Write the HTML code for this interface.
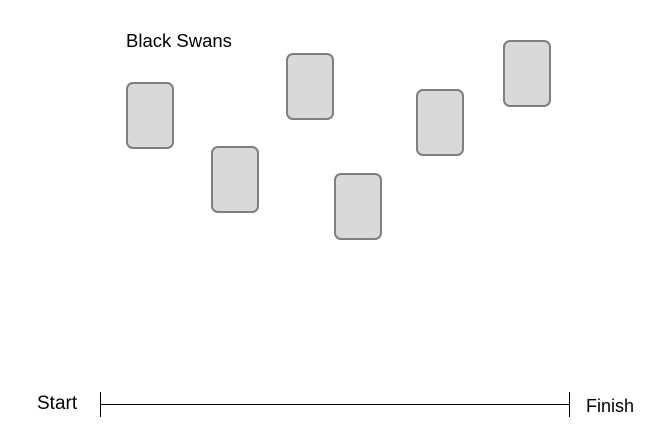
<!DOCTYPE html>
<html><head><style>
body{margin:0;width:667px;height:440px;background:#fff;position:relative;overflow:hidden;font-family:"Liberation Sans",sans-serif;}
.c{position:absolute;width:44px;height:63px;background:#d9d9d9;border:2px solid #7f7f7f;border-radius:7px;}
.t{position:absolute;color:#000;line-height:1;white-space:nowrap;}
</style></head><body>
<div class="t" style="left:126px;top:32px;font-size:18.5px">Black Swans</div>
<div class="c" style="left:126px;top:82px"></div>
<div class="c" style="left:211px;top:146px"></div>
<div class="c" style="left:286px;top:53px"></div>
<div class="c" style="left:334px;top:173px"></div>
<div class="c" style="left:416px;top:89px"></div>
<div class="c" style="left:503px;top:40px"></div>
<svg style="position:absolute;left:0;top:0" width="667" height="440">
<line x1="100" y1="404.5" x2="569" y2="404.5" stroke="#000" stroke-width="1"/>
<line x1="100.5" y1="392" x2="100.5" y2="417" stroke="#000" stroke-width="1"/>
<line x1="569.5" y1="392" x2="569.5" y2="417" stroke="#000" stroke-width="1"/>
</svg>
<div class="t" style="left:37px;top:394px;font-size:19px">Start</div>
<div class="t" style="left:586px;top:397px;font-size:18px">Finish</div>
</body></html>
